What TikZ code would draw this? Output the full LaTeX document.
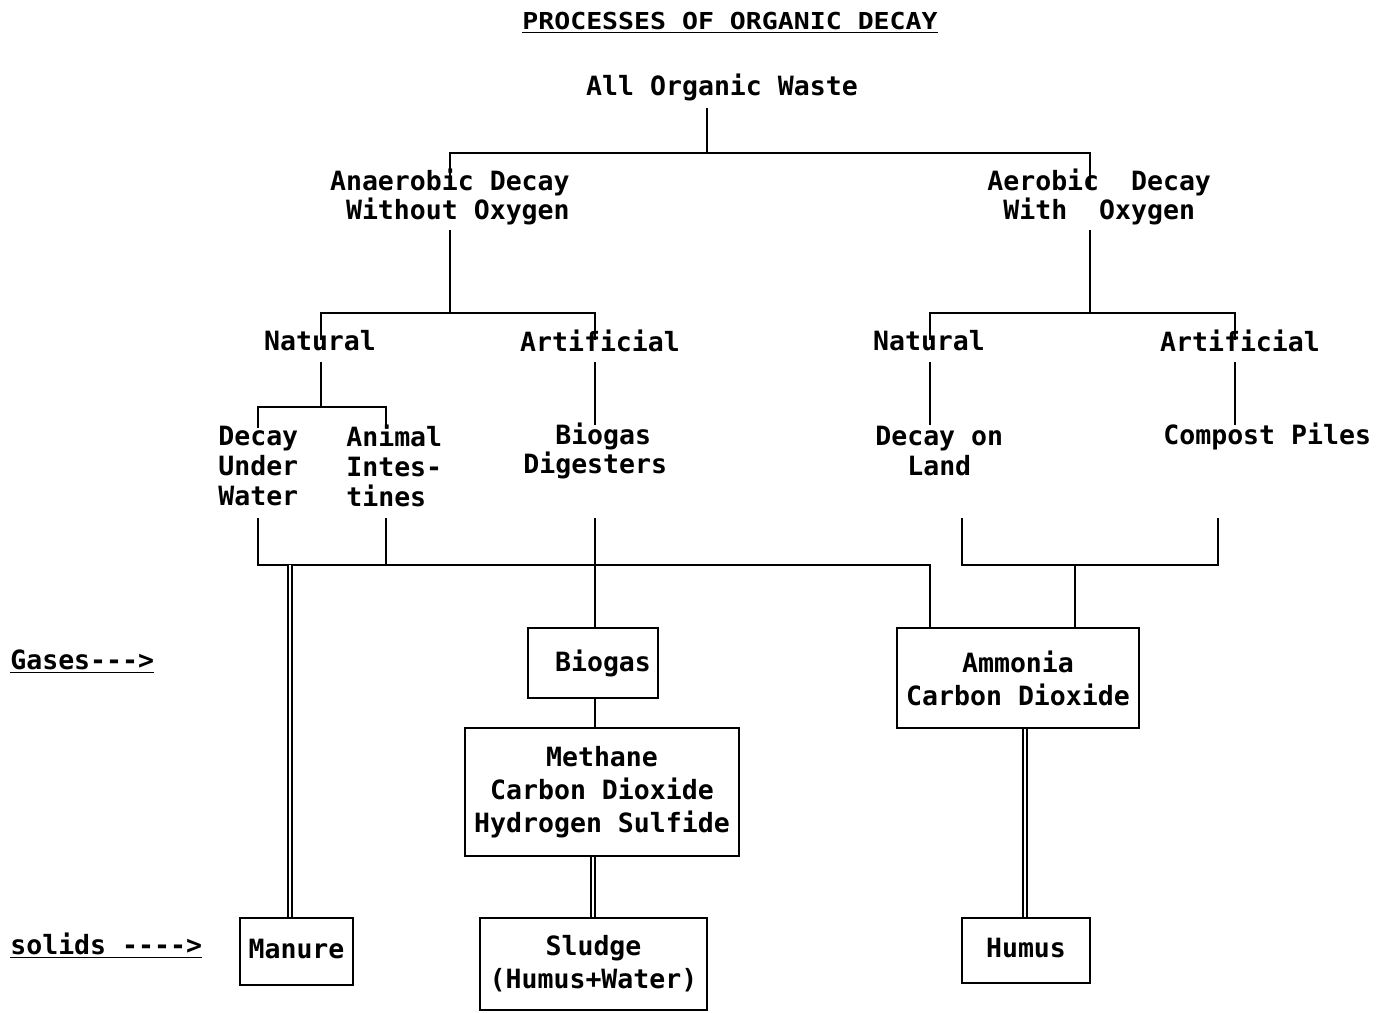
\documentclass[tikz,border=0pt]{standalone}
\usepackage{fontspec}
\usepackage{graphicx}
\setmonofont{DejaVu Sans Mono}
\tikzset{
  txt/.style={inner sep=0pt, font=\ttfamily\bfseries\fontsize{15.1}{17}\selectfont},
  box/.style={draw, line width=1.5pt, inner sep=0pt, align=center,
    font=\ttfamily\bfseries\fontsize{15.1}{18.8}\selectfont},
  tree/.style={line width=1.3pt},
  dbl/.style={double, double distance=1.1pt, line width=1.35pt}
}
\begin{document}
\begin{tikzpicture}[x=0.02cm, y=-0.02cm]
\useasboundingbox (0,0) rectangle (1385,1013);

% x positions of the vertical connectors
\foreach \xx in {290,593,595,930,1025,1075}
  \coordinate (x\xx) at (\xx,0);

% titles and tree labels
\node[txt] (title) at (730,23) {\scalebox{1}[0.88]{\underline{PROCESSES~OF~ORGANIC~DECAY}}};
\node[txt] (aow) at (722,87) {All Organic Waste};
\node[txt, align=right, anchor=east] (anaer) at (570,197) {Anaerobic Decay\\Without Oxygen};
\node[txt, align=left, anchor=west] (aer) at (987,197) {Aerobic~~Decay\\\hphantom{A}With~~Oxygen};
\node[txt] (natL) at (320,341) {Natural};
\node[txt] (artL) at (600,341) {Artificial};
\node[txt] (natR) at (929,341) {Natural};
\node[txt] (artR) at (1240,341) {Artificial};
\node[txt, align=left, anchor=west] (duw) at (218,466) {Decay\\Under\\Water};
\node[txt, align=left, anchor=west] (anim) at (346,466) {Animal\\Intes-\\tines};
\node[txt, align=left, anchor=west] (bdig) at (523,451) {\hphantom{Bi}Biogas\\Digesters};
\node[txt, align=left, anchor=west] (dland) at (875,451) {Decay on\\\hphantom{De}Land};
\node[txt, anchor=west] (cpile) at (1163,436) {Compost Piles};
\node[txt, anchor=west] (gases) at (10,662) {\underline{Gases--->}};
\node[txt, anchor=west] (solids) at (10,946) {\underline{solids~---->}};

% product boxes
\node[box, minimum width=2.6cm, minimum height=1.4cm] (bbio) at (593,663) {\hspace*{0.4cm}Biogas};
\node[box, minimum width=5.48cm, minimum height=2.56cm] (bmeth) at (602,792) {Methane\\Carbon Dioxide\\Hydrogen Sulfide};
\node[box, minimum width=4.84cm, minimum height=2cm] (bamm) at (1018,678) {Ammonia\\Carbon Dioxide};
\node[box, minimum width=2.26cm, minimum height=1.34cm, text depth=0.12cm] (bman) at (296.5,951.5) {Manure};
\node[box, minimum width=4.54cm, minimum height=1.84cm] (bslu) at (593.5,964) {Sludge\\(Humus+Water)};
\node[box, minimum width=2.56cm, minimum height=1.3cm, text depth=0.12cm] (bhum) at (1026,950.5) {Humus};

% tree connectors
\draw[tree] (707,108) -- (707,153);
\draw[tree] (450,190) -- (450,153) -- (1090,153) -- (1090,190);
\draw[tree] (450,230) -- (450,313);
\draw[tree] (321,340) -- (321,313) -- (595,313) -- (595,340);
\draw[tree] (1090,230) -- (1090,313);
\draw[tree] (930,340) -- (930,313) -- (1235,313) -- (1235,340);
\draw[tree] (321,362) -- (321,407);
\draw[tree] (258,428) -- (258,407) -- (386,407) -- (386,428);
\draw[tree] (595,362) -- (595,425);
\draw[tree] (930,362) -- (930,425);
\draw[tree] (1235,362) -- (1235,425);
\draw[tree] (258,518) -- (258,565) -- (930,565) -- (bamm.north -| x930);
\draw[tree] (386,518) -- (386,565);
\draw[tree] (595,518) -- (bbio.north -| x595);
\draw[tree] (962,518) -- (962,565) -- (1218,565) -- (1218,518);
\draw[tree] (1075,565) -- (bamm.north -| x1075);
\draw[tree] (bbio.south -| x595) -- (bmeth.north -| x595);

% double connectors down to the solids
\draw[dbl] (290,565) -- (bman.north -| x290);
\draw[dbl] (bmeth.south -| x593) -- (bslu.north -| x593);
\draw[dbl] (bamm.south -| x1025) -- (bhum.north -| x1025);
\end{tikzpicture}
\end{document}
